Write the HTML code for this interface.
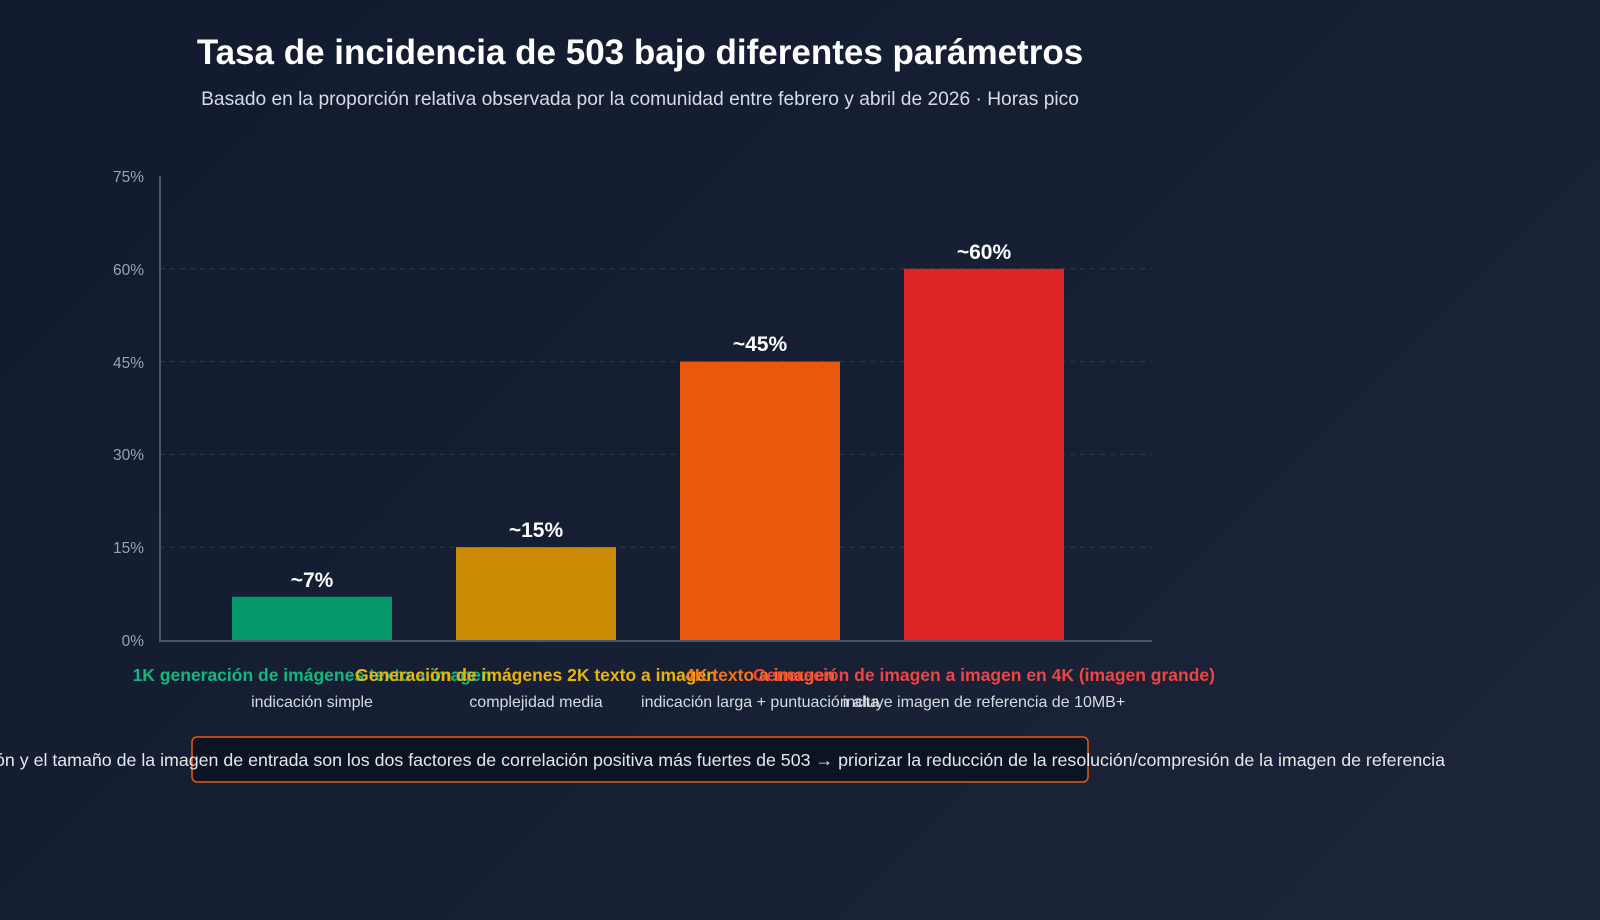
<!DOCTYPE html>
<html><head><meta charset="utf-8"><style>
html,body{margin:0;padding:0}
body{width:1600px;height:920px;overflow:hidden;background:linear-gradient(135deg,#111a2e 0%,#161f33 50%,#1d2639 100%);font-family:"Liberation Sans",Arial,sans-serif;position:relative}
.t{position:absolute;white-space:nowrap}
</style></head><body>
<div class="t" style="left:0;width:1280px;text-align:center;top:33px;font-size:35px;font-weight:bold;color:#fff">Tasa de incidencia de 503 bajo diferentes parámetros</div>
<div class="t" style="left:0;width:1280px;text-align:center;top:89px;font-size:19.2px;color:#d6dbe4">Basado en la proporción relativa observada por la comunidad entre febrero y abril de 2026 · Horas pico</div>
<svg width="1600" height="920" style="position:absolute;left:0;top:0" font-family="Liberation Sans, Arial, sans-serif">
<g stroke="#2e3a4f" stroke-dasharray="5,5" stroke-width="1">
<line x1="160" x2="1152" y1="268.8" y2="268.8"/><line x1="160" x2="1152" y1="361.6" y2="361.6"/>
<line x1="160" x2="1152" y1="454.4" y2="454.4"/><line x1="160" x2="1152" y1="547.2" y2="547.2"/>
</g>
<g fill="#9aa3b2" font-size="15.5" text-anchor="end">
<text x="144" y="182">75%</text><text x="144" y="275">60%</text><text x="144" y="368">45%</text>
<text x="144" y="460">30%</text><text x="144" y="553">15%</text><text x="144" y="646">0%</text>
</g>
<rect x="232" y="596.7" width="160" height="43.3" fill="#059669"/>
<rect x="456" y="547.2" width="160" height="92.8" fill="#ca8a04"/>
<rect x="680" y="361.6" width="160" height="278.4" fill="#ea580c"/>
<rect x="904" y="268.8" width="160" height="371.2" fill="#dc2626"/>
<line x1="160" y1="176" x2="160" y2="641" stroke="#4b5566" stroke-width="2"/>
<line x1="159" y1="641" x2="1152" y2="641" stroke="#4b5566" stroke-width="2"/>
<g fill="#fff" font-size="21" font-weight="bold" text-anchor="middle">
<text x="312" y="587">~7%</text><text x="536" y="537">~15%</text><text x="760" y="351">~45%</text><text x="984" y="259">~60%</text>
</g>
<g font-size="17.5" font-weight="bold" text-anchor="middle">
<text x="312" y="681" fill="#10b981">1K generación de imágenes texto a imagen</text>
<text x="536" y="681" fill="#eab308">Generación de imágenes 2K texto a imagen</text>
<text x="760" y="681" fill="#f97316">4K texto a imagen</text>
<text x="984" y="681" fill="#ef4444">Generación de imagen a imagen en 4K (imagen grande)</text>
</g>
<g font-size="16" fill="#d6dbe4" text-anchor="middle">
<text x="312" y="707">indicación simple</text><text x="536" y="707">complejidad media</text>
<text x="760" y="707">indicación larga + puntuación alta</text><text x="984" y="707">incluye imagen de referencia de 10MB+</text>
</g>
<rect x="192" y="737" width="896" height="45" rx="5" fill="#0c1322" stroke="#ea580c" stroke-width="1.5"/>
<text x="1445" y="766" fill="#e5e7eb" font-size="17.8" text-anchor="end">La resolución y el tamaño de la imagen de entrada son los dos factores de correlación positiva más fuertes de 503 → priorizar la reducción de la resolución/compresión de la imagen de referencia</text>
</svg>
</body></html>
